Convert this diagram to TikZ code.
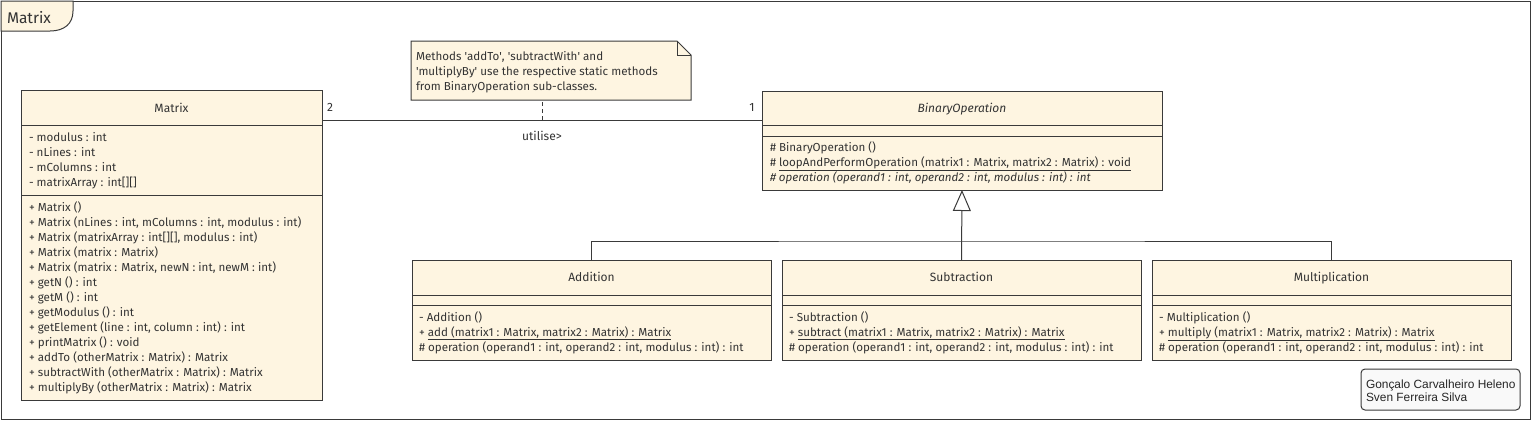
\documentclass[tikz,border=0pt]{standalone}
\usepackage{fontspec}
\setmainfont{Fira Sans}
\newfontfamily\sigfont{Liberation Sans}
\usetikzlibrary{arrows.meta,backgrounds,calc}
\definecolor{boxfill}{HTML}{FEF5E1}
\definecolor{lineC}{HTML}{3A3A3A}
\definecolor{txt}{HTML}{333333}
\definecolor{sigfill}{HTML}{F9F9F9}
\newcommand\sq{\textquotesingle}
\begin{document}
\begin{tikzpicture}[x=1pt,y=-1pt,
  every node/.style={inner sep=0pt, outer sep=0pt, text=txt},
  line/.style={draw=lineC, line width=1pt},
  classbox/.style={line, fill=boxfill, anchor=north west},
  ctitle/.style={anchor=base, font=\fontsize{12}{14}\selectfont},
  member/.style={anchor=base west, font=\fontsize{11.6}{15}\selectfont},
  lbl/.style={font=\fontsize{12}{14}\selectfont},
  sigtext/.style={anchor=base west, font=\sigfont\fontsize{11.9}{13}\selectfont, text=black!85},
]
\useasboundingbox (0,0) rectangle (1532,421);

% frame
\draw[line] (1,1) rectangle (1530,419);
\draw[line, fill=boxfill] (1,1) -- (73,1) -- (73,11) .. controls (73,24) and (64,31) .. (50,31) -- (1,31) -- cycle;
\node[font=\fontsize{15.5}{17}\selectfont, anchor=base west] (frametitle) at (7,23) {Matrix};

% Matrix class
\node[classbox, minimum width=301pt, minimum height=310pt] (matrix) at (21,90) {};
\draw[line] ([yshift=-35pt]matrix.north west) -- ([yshift=-35pt]matrix.north east);
\draw[line] ([yshift=-105pt]matrix.north west) -- ([yshift=-105pt]matrix.north east);
\node[ctitle] (matrix-t) at ([yshift=-22pt]matrix.north) {Matrix};
\foreach \t [count=\i] in {{- modulus : int},{- nLines : int},{- mColumns : int},{- matrixArray : int[][]}}
  \node[member] (matrix-a\i) at ([xshift=8pt,yshift={-(51+(\i-1)*15)*1pt}]matrix.north west) {\t};
\foreach \t [count=\i] in {{+ Matrix ()},
  {+ Matrix (nLines : int, mColumns : int, modulus : int)},
  {+ Matrix (matrixArray : int[][], modulus : int)},
  {+ Matrix (matrix : Matrix)},
  {+ Matrix (matrix : Matrix, newN : int, newM : int)},
  {+ getN () : int},
  {+ getM () : int},
  {+ getModulus () : int},
  {+ getElement (line : int, column : int) : int},
  {+ printMatrix () : void},
  {+ addTo (otherMatrix : Matrix) : Matrix},
  {+ subtractWith (otherMatrix : Matrix) : Matrix},
  {+ multiplyBy (otherMatrix : Matrix) : Matrix}}
  \node[member] (matrix-m\i) at ([xshift=8pt,yshift={-(121+(\i-1)*15)*1pt}]matrix.north west) {\t};

% BinaryOperation
\node[classbox, minimum width=400pt, minimum height=99pt] (binop) at (762,91) {};
\draw[line] ([yshift=-34pt]binop.north west) -- ([yshift=-34pt]binop.north east);
\draw[line] ([yshift=-45pt]binop.north west) -- ([yshift=-45pt]binop.north east);
\node[ctitle, font=\fontsize{12}{14}\selectfont\itshape] (binop-t) at ([yshift=-21pt]binop.north) {BinaryOperation};
\foreach \t [count=\i] in {{\# BinaryOperation ()},
  {\# \underline{loopAndPerformOperation (matrix1 : Matrix, matrix2 : Matrix) : void}},
  {\itshape\# operation (operand1 : int, operand2 : int, modulus : int) : int}}
  \node[member] (binop-m\i) at ([xshift=8pt,yshift={-(60+(\i-1)*15)*1pt}]binop.north west) {\t};

% subclasses
\foreach \n/\x/\name/\meth in {add/412/Addition/add, sub/782/Subtraction/subtract, mul/1152/Multiplication/multiply}{
  \node[classbox, minimum width=359pt, minimum height=100pt] (\n) at (\x,260) {};
  \draw[line] ([yshift=-35pt]\n.north west) -- ([yshift=-35pt]\n.north east);
  \draw[line] ([yshift=-45pt]\n.north west) -- ([yshift=-45pt]\n.north east);
  \node[ctitle] (\n-t) at ([yshift=-21pt]\n.north) {\name};
  \node[member] (\n-m1) at ([xshift=7pt,yshift=-61pt]\n.north west) {- \name\ ()};
  \node[member] (\n-m2) at ([xshift=7pt,yshift=-76pt]\n.north west) {+ \underline{\meth\ (matrix1 : Matrix, matrix2 : Matrix) : Matrix}};
  \node[member] (\n-m3) at ([xshift=7pt,yshift=-91pt]\n.north west) {\# operation (operand1 : int, operand2 : int, modulus : int) : int};
}

% inheritance
\coordinate (bus) at (962,241);
\draw[line] (add.north) |- (bus) -| (mul.north);
\draw[line, -{Triangle[open, width=18pt, length=21pt, fill=white]}] (sub.north) -- (binop.south);

% association
\coordinate (assocL) at ([yshift=-30pt]matrix.north east);
\coordinate (assocR) at (assocL -| binop.west);
\coordinate (mid) at ($(assocL)!0.5!(assocR)$);
\draw[line] (assocL) -- (assocR);
\node[lbl] (mult2) at ([xshift=8pt,yshift=-17pt]matrix.north east) {2};
\node[lbl] (mult1) at ([xshift=-10pt,yshift=-16pt]binop.north west) {1};
\node[lbl] (uses) at ([yshift=-16pt]mid) {utilise>};

% note
\node[minimum width=280pt, minimum height=59pt, anchor=north west] (note) at (411,41) {};
\begin{scope}[on background layer]
\draw[line, fill=boxfill] (note.north west) -- ([xshift=-14pt]note.north east) -- ([yshift=-14pt]note.north east) -- (note.south east) -- (note.south west) -- cycle;
\end{scope}
\draw[line] ([xshift=-14pt]note.north east) |- ([yshift=-14pt]note.north east);
\foreach \t [count=\i] in {{Methods \sq addTo\sq, \sq subtractWith\sq\ and},{\sq multiplyBy\sq\ use the respective static methods},{from BinaryOperation sub-classes.}}
  \node[member] (note-l\i) at ([xshift=5pt,yshift={-(19+(\i-1)*15)*1pt}]note.north west) {\t};
\draw[line, dash pattern=on 4pt off 3pt] (mid) -- (mid |- note.south);

% signature
\node[line, fill=sigfill, rounded corners=4pt, minimum width=159pt, minimum height=41pt, anchor=north west] (sig) at (1361,369) {};
\node[sigtext] (sig-1) at ([xshift=5pt,yshift=-19pt]sig.north west) {Gonçalo Carvalheiro Heleno};
\node[sigtext] (sig-2) at ([xshift=5pt,yshift=-32pt]sig.north west) {Sven Ferreira Silva};
\end{tikzpicture}
\end{document}
